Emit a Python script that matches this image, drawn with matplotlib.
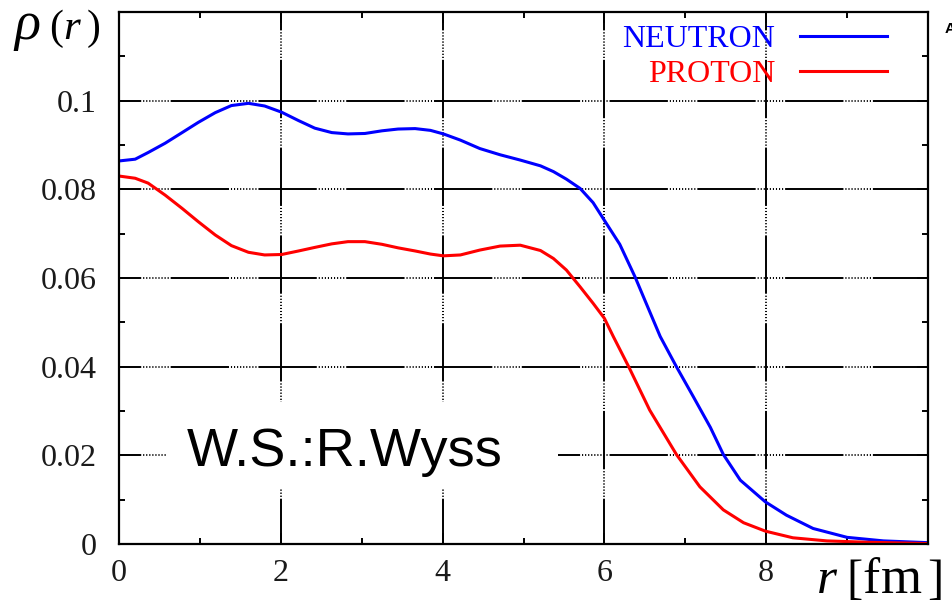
import matplotlib
matplotlib.use("Agg")
import matplotlib.pyplot as plt
from matplotlib.patches import Rectangle

plt.rcParams['lines.scale_dashes'] = False
plt.rcParams['mathtext.fontset'] = 'custom'
plt.rcParams['mathtext.rm'] = 'Liberation Serif'
plt.rcParams['mathtext.it'] = 'Liberation Serif:italic'

# ---- data ----
r_neutron = [0.0, 0.2, 0.36, 0.57, 0.78, 0.98, 1.19, 1.39, 1.6, 1.8, 2.01, 2.22, 2.42,
             2.63, 2.83, 3.04, 3.25, 3.45, 3.66, 3.85, 4.01, 4.22, 4.46, 4.71, 4.96,
             5.21, 5.37, 5.53, 5.7, 5.86, 6.0, 6.19, 6.38, 6.5, 6.69, 6.89, 7.1, 7.31,
             7.47, 7.68, 7.99, 8.25, 8.58, 9.0, 9.45, 10.0]
rho_neutron = [0.0864, 0.0868, 0.0883, 0.0904, 0.0928, 0.0951, 0.0973, 0.0989, 0.0994,
               0.0988, 0.0974, 0.0955, 0.0938, 0.0928, 0.0925, 0.0926, 0.0932, 0.0936,
               0.0937, 0.0933, 0.0925, 0.0911, 0.0892, 0.0878, 0.0866, 0.0853, 0.0840,
               0.0823, 0.0802, 0.0770, 0.0730, 0.0676, 0.0602, 0.0550, 0.0468, 0.0400,
               0.0332, 0.0263, 0.0202, 0.0144, 0.0095, 0.0065, 0.0035, 0.0015, 0.0007,
               0.0003]

r_proton = [0.0, 0.2, 0.36, 0.57, 0.78, 0.98, 1.19, 1.39, 1.6, 1.8, 2.01, 2.22, 2.42,
            2.63, 2.83, 3.04, 3.25, 3.45, 3.66, 3.85, 4.01, 4.22, 4.46, 4.71, 4.96, 5.21,
            5.37, 5.53, 5.7, 5.86, 6.0, 6.11, 6.3, 6.56, 6.89, 7.18, 7.47, 7.72, 7.99,
            8.33, 8.75, 9.24, 10.0]
rho_proton = [0.0830, 0.0825, 0.0814, 0.0787, 0.0757, 0.0727, 0.0697, 0.0673, 0.0658,
              0.0652, 0.0653, 0.0661, 0.0669, 0.0677, 0.0682, 0.0682, 0.0676, 0.0668,
              0.0661, 0.0654, 0.0650, 0.0652, 0.0663, 0.0672, 0.0674, 0.0662, 0.0644,
              0.0618, 0.0580, 0.0543, 0.0509, 0.0468, 0.0400, 0.0302, 0.0202, 0.0129,
              0.0077, 0.0048, 0.0029, 0.0014, 0.0007, 0.0004, 0.0001]

series_labels = ["NEUTRON", "PROTON"]
x_ticks = [0, 2, 4, 6, 8]
x_tick_labels = ["0", "2", "4", "6", "8"]
y_ticks = [0, 0.02, 0.04, 0.06, 0.08, 0.1]
y_tick_labels = ["0", "0.02", "0.04", "0.06", "0.08", "0.1"]
x_minor = [1, 3, 5, 7, 9]
y_minor = [0.01, 0.03, 0.05, 0.07, 0.09, 0.11]

W, H = 952, 605
fig = plt.figure(figsize=(W / 100, H / 100), dpi=100)
ax = fig.add_axes([119 / W, (H - 544) / H, (928 - 119) / W, (544 - 12) / H])
ax.set_xlim(0, 10)
ax.set_ylim(0, 0.12)

# gnuplot-like grid: long solid pieces alternating with dotted pieces
dash = [42, 1.4] + [0.8, 1.4] * 9
for yv in y_ticks[1:]:
    ax.axhline(yv, color='black', lw=1.4, ls=(26, dash), zorder=1)
for xv in x_ticks[1:]:
    ax.axvline(xv, color='black', lw=1.4, ls=(9.4, dash), zorder=1)

# white box behind the annotation
ax.add_patch(Rectangle((0.59, 0.0126), 4.84, 0.0194, facecolor='white',
                       edgecolor='none', zorder=2))
ax.text(0.84, 0.0176, "W.S.:R.Wyss", fontsize=39, family='Liberation Sans',
        va='baseline', ha='left', zorder=3)

l1, = ax.plot(r_neutron, rho_neutron, color='#0000ff', lw=2.2, zorder=4,
              label=series_labels[0], solid_joinstyle='round')
l2, = ax.plot(r_proton, rho_proton, color='#ff0000', lw=2.2, zorder=4,
              label=series_labels[1], solid_joinstyle='round')

ax.set_xticks(x_ticks, x_tick_labels)
ax.set_yticks(y_ticks, y_tick_labels)
ax.set_xticks(x_minor, minor=True)
ax.set_yticks(y_minor, minor=True)
for lab in ax.get_xticklabels() + ax.get_yticklabels():
    lab.set_family('Liberation Serif')
    lab.set_fontsize(23)
    lab.set_color('#1a1a1a')
ax.tick_params(axis='both', which='both', direction='in', top=True, right=True,
               width=1.4, color='black')
ax.tick_params(axis='both', which='major', length=8)
ax.tick_params(axis='both', which='minor', length=4.5)
ax.tick_params(axis='y', which='major', pad=16)
ax.tick_params(axis='x', which='major', pad=11)
for s in ax.spines.values():
    s.set_linewidth(1.6)
    s.set_zorder(5)

leg = ax.legend(handles=[l1, l2], loc='upper right', markerfirst=False,
                frameon=False, labelcolor='linecolor',
                prop={'family': 'Liberation Serif', 'size': 23},
                handlelength=2.72, handletextpad=0.78, labelspacing=0.18,
                borderpad=0, borderaxespad=0,
                bbox_to_anchor=(887 / W, 1 - 25 / H), bbox_transform=fig.transFigure)

# y-axis label "rho(r)" (wide lettering as in the reference)
ylab_base = 1 - 39 / H
fig.text(13 / W, ylab_base, r"$\rho$", fontsize=39, ha='left', va='baseline')
fig.text(49 / W, ylab_base, "(", fontsize=30, family='Liberation Serif',
         ha='left', va='baseline')
fig.text(63 / W, ylab_base, r"$r$", fontsize=31, ha='left', va='baseline')
fig.text(87 / W, ylab_base, ")", fontsize=30, family='Liberation Serif',
         ha='left', va='baseline')

# x-axis label "r [fm]"
xlab_base = 1 - 593 / H
fig.text(816 / W, xlab_base, r"$r$", fontsize=37, ha='left', va='baseline')
fig.text(846 / W, xlab_base, "[", fontsize=35, family='Liberation Serif',
         ha='left', va='baseline')
fig.text(862 / W, xlab_base, "f", fontsize=37, family='Liberation Serif',
         ha='left', va='baseline')
fig.text(881 / W, xlab_base, "m", fontsize=38, family='Liberation Serif',
         ha='left', va='baseline')
fig.text(927 / W, xlab_base, "]", fontsize=35, family='Liberation Serif',
         ha='left', va='baseline')

fig.text(945 / W, 1 - 33 / H, "A", fontsize=11, fontweight='bold',
         family='Liberation Sans', ha='left', va='baseline')

fig.savefig("out.png", dpi=100)
